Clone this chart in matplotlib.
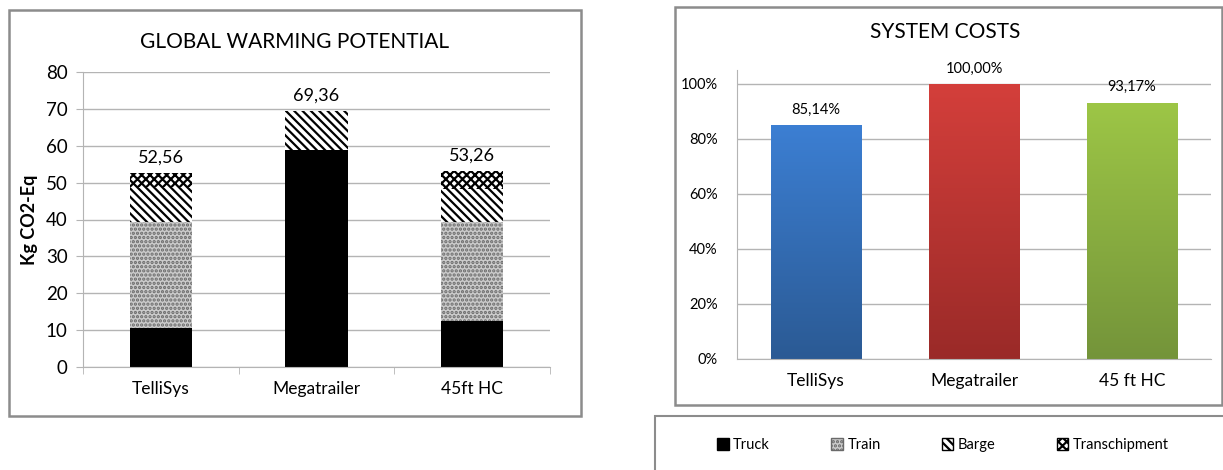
import matplotlib
matplotlib.use("Agg")
import matplotlib.pyplot as plt
import numpy as np
from matplotlib.patches import Rectangle, Patch

plt.rcParams['font.family'] = ['Lato', 'DejaVu Sans']
plt.rcParams['hatch.linewidth'] = 1.6

# ---- data ----
gwp_categories = ["TelliSys", "Megatrailer", "45ft HC"]
truck = [10.7, 58.9, 12.5]
train = [28.5, 0.0, 26.7]
barge = [9.5, 10.46, 9.2]
transhipment = [3.86, 0.0, 4.86]
gwp_totals = ["52,56", "69,36", "53,26"]

cost_categories = ["TelliSys", "Megatrailer", "45 ft HC"]
cost_values = [85.14, 100.0, 93.17]
cost_labels = ["85,14%", "100,00%", "93,17%"]

legend_labels = ["Truck", "Train", "Barge", "Transchipment"]

W, H = 1223, 470
fig = plt.figure(figsize=(W / 100, H / 100), dpi=100)

def fx(px):
    return px / W

def fy(py):
    return 1 - py / H

grid_c = '#b4b4b4'
box_c = '#8c8c8c'

# frames
fig.patches.append(Rectangle((fx(9), fy(416)), fx(581) - fx(9), fy(10) - fy(416),
                             transform=fig.transFigure, fill=False, edgecolor=box_c, lw=1.8))
fig.patches.append(Rectangle((fx(675), fy(405)), fx(1222) - fx(675), fy(7) - fy(405),
                             transform=fig.transFigure, fill=False, edgecolor=box_c, lw=1.8))
fig.patches.append(Rectangle((fx(655), fy(478)), fx(1230) - fx(655), fy(416) - fy(478),
                             transform=fig.transFigure, fill=False, edgecolor=box_c, lw=1.5))

# ---- left chart ----
ax1 = fig.add_axes([fx(83), fy(367), fx(550) - fx(83), fy(72) - fy(367)])
x = np.arange(len(gwp_categories))
bw = 0.4
styles = [
    dict(facecolor='black', edgecolor='black', hatch=None),
    dict(facecolor='#cbcbcb', edgecolor='#6a6a6a', hatch='....'),
    dict(facecolor='white', edgecolor='black', hatch='\\\\\\\\'),
    dict(facecolor='white', edgecolor='black', hatch='xxxx'),
]
series = [truck, train, barge, transhipment]
bottom = np.zeros(len(x))
handles = []
for vals, st, lab in zip(series, styles, legend_labels):
    bars = ax1.bar(x, vals, bw, bottom=bottom, linewidth=0, label=lab, **st)
    bottom += np.array(vals)
    handles.append(Patch(label=lab, **st))
for xi, tot, lab in zip(x, bottom, gwp_totals):
    ax1.text(xi, tot + 2.0, lab, ha='center', va='bottom', fontsize=13)
ax1.set_xlim(-0.5, len(x) - 0.5)
ax1.set_ylim(0, 80)
ax1.set_yticks(np.arange(0, 81, 10))
ax1.set_xticks(x)
ax1.set_xticklabels(gwp_categories, fontsize=12.5)
ax1.set_xticks(np.arange(-0.5, len(x), 1.0), minor=True)
ax1.tick_params(axis='x', which='major', length=0, pad=10)
ax1.tick_params(axis='x', which='minor', length=5, color=grid_c)
ax1.tick_params(axis='y', length=5, color=grid_c, labelsize=13.5, pad=6)
ax1.grid(axis='y', color=grid_c, lw=1.0)
ax1.set_axisbelow(True)
for s in ['top', 'right']:
    ax1.spines[s].set_visible(False)
for s in ['left', 'bottom']:
    ax1.spines[s].set_color(grid_c)
ax1.set_ylabel('Kg CO2-Eq', fontsize=13, fontweight='bold', labelpad=6)
fig.text(fx(295), fy(42), 'GLOBAL WARMING POTENTIAL', ha='center', va='center', fontsize=15)

# ---- right chart ----
ax2 = fig.add_axes([fx(737), fy(359), fx(1211) - fx(737), fy(70) - fy(359)])
x2 = np.arange(len(cost_categories))
bw2 = 0.57
grads = [('#3c7fd3', '#2b5a94'), ('#d43f3b', '#9a2a28'), ('#9dc646', '#74943a')]
vals2 = np.array(cost_values) / 100.0
bars2 = ax2.bar(x2, vals2, bw2, color='none', linewidth=0)
for b, (ctop, cbot) in zip(bars2, grads):
    c1 = np.array(matplotlib.colors.to_rgb(ctop))
    c2 = np.array(matplotlib.colors.to_rgb(cbot))
    t = np.linspace(0, 1, 256)[:, None]
    img = (c1[None, :] * (1 - t) + c2[None, :] * t)[:, None, :]
    bx, by = b.get_x(), b.get_y()
    im = ax2.imshow(img, extent=[bx, bx + b.get_width(), by, by + b.get_height()],
                    aspect='auto', zorder=2, origin='upper')
    im.set_clip_path(b)
for xi, v, lab in zip(x2, vals2, cost_labels):
    ax2.text(xi, v + 0.03, lab, ha='center', va='bottom', fontsize=10.5)
ax2.set_xlim(-0.5, len(x2) - 0.5)
ax2.set_ylim(0, 1.05)
ax2.set_yticks(np.arange(0, 1.01, 0.2))
ax2.set_yticklabels([f"{int(round(v * 100))}%" for v in np.arange(0, 1.01, 0.2)])
ax2.set_xticks(x2)
ax2.set_xticklabels(cost_categories, fontsize=12.5)
ax2.tick_params(axis='x', length=0, pad=10)
ax2.tick_params(axis='y', length=0, labelsize=10.5, pad=14)
ax2.grid(axis='y', color=grid_c, lw=1.0)
ax2.set_axisbelow(True)
for s in ['top', 'right']:
    ax2.spines[s].set_visible(False)
for s in ['left', 'bottom']:
    ax2.spines[s].set_color(grid_c)
fig.text(fx(945), fy(32), 'SYSTEM COSTS', ha='center', va='center', fontsize=15)

# ---- legend ----
fig.legend(handles=handles, loc='center', bbox_to_anchor=(fx(943), fy(445)), ncol=4,
           frameon=False, fontsize=10.5, handlelength=0.8, handleheight=0.8,
           handletextpad=0.3, columnspacing=4.2)

fig.savefig('out.png', dpi=100)
